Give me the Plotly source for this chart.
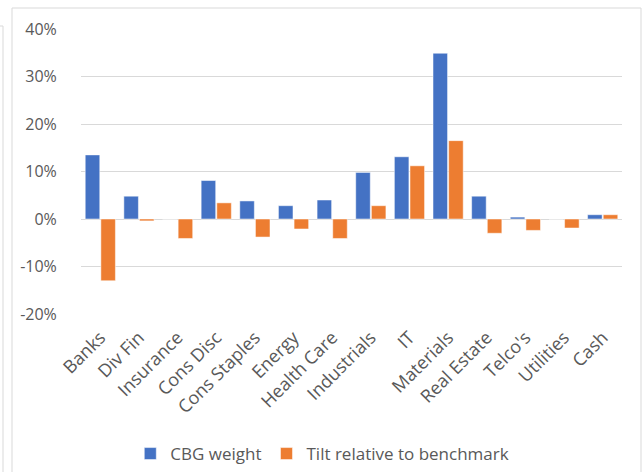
import plotly.graph_objects as go

categories = ["Banks", "Div Fin", "Insurance", "Cons Disc", "Cons Staples", "Energy",
              "Health Care", "Industrials", "IT", "Materials", "Real Estate", "Telco's",
              "Utilities", "Cash"]
cbg_weight = [0.135, 0.048, 0.0, 0.081, 0.038, 0.028, 0.040, 0.098, 0.131, 0.349,
              0.048, 0.004, 0.0, 0.009]
tilt = [-0.130, -0.004, -0.041, 0.034, -0.038, -0.021, -0.041, 0.028, 0.112, 0.165,
        -0.030, -0.024, -0.019, 0.009]
y_ticks = [-0.2, -0.1, 0.0, 0.1, 0.2, 0.3, 0.4]
y_tick_labels = ["-20%", "-10%", "0%", "10%", "20%", "30%", "40%"]

font_family = "Open Sans, Liberation Sans, sans-serif"
grey_text = "#595959"
grid = "#d9d9d9"

fig = go.Figure()
fig.add_trace(go.Bar(x=categories, y=cbg_weight, name="CBG weight",
                     marker=dict(color="#4472C4", line=dict(color="rgba(255,255,255,0.5)", width=1))))
fig.add_trace(go.Bar(x=categories, y=tilt, name="Tilt relative to benchmark",
                     marker=dict(color="#ED7D31", line=dict(color="rgba(255,255,255,0.5)", width=1))))

# paper coords: x0=81px, x1=622px, y0=314px, y1=29px
W, H = 541.0, 285.0
def px_x(v):
    return (v - 81) / W
def px_y(v):
    return (314 - v) / H

fig.update_layout(
    width=643, height=472,
    margin=dict(l=81, r=21, t=29, b=158, autoexpand=False),
    paper_bgcolor="white", plot_bgcolor="white",
    barmode="group", bargap=0.19, bargroupgap=0.07,
    font=dict(family=font_family, size=16, color=grey_text),
    showlegend=True,
    legend=dict(orientation="h", x=0.446, xanchor="center", y=px_y(454), yanchor="middle",
                font=dict(size=17, color=grey_text), itemwidth=30, traceorder="normal"),
    xaxis=dict(tickangle=-45, showgrid=False, showline=False, zeroline=False,
               automargin=False,
               ticks="outside", ticklen=5, tickcolor="rgba(0,0,0,0)",
               tickfont=dict(size=18, color=grey_text)),
    yaxis=dict(range=[-0.2, 0.4], tickvals=y_ticks, ticktext=y_tick_labels,
               automargin=False,
               showgrid=True, gridcolor=grid, gridwidth=1,
               zeroline=True, zerolinecolor=grid, zerolinewidth=1.2,
               showline=False, ticks="outside", ticklen=20, tickcolor="rgba(0,0,0,0)",
               tickfont=dict(size=16, color=grey_text)),
    shapes=[
        dict(type="rect", xref="paper", yref="paper",
             x0=px_x(12), x1=px_x(641), y0=px_y(490), y1=px_y(8),
             line=dict(color=grid, width=1), fillcolor="rgba(0,0,0,0)", layer="below"),
        dict(type="rect", xref="paper", yref="paper",
             x0=px_x(-20), x1=px_x(3), y0=px_y(490), y1=px_y(26),
             line=dict(color=grid, width=1), fillcolor="rgba(0,0,0,0)", layer="below"),
    ],
)

fig.write_html("out.html", config={"displayModeBar": False},
               post_script="document.body.style.margin='0';")
